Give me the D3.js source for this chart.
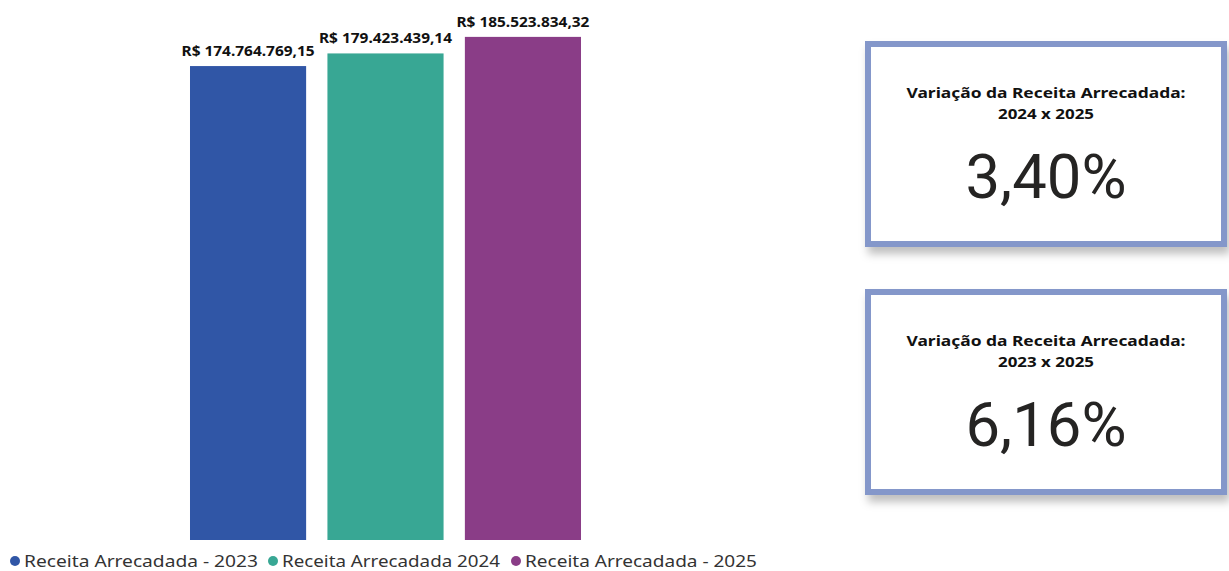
<!DOCTYPE html>
<html>
<head>
<meta charset="utf-8">
<script src="https://cdn.jsdelivr.net/npm/d3@7"></script>
<style>
  body { margin: 0; background: #fff; }
  svg { display: block; }
</style>
</head>
<body>
<script>
// dados
const series = ['Receita Arrecadada - 2023', 'Receita Arrecadada 2024', 'Receita Arrecadada - 2025'];
const values = [174764769.15, 179423439.14, 185523834.32];
const valueLabels = ['R$ 174.764.769,15', 'R$ 179.423.439,14', 'R$ 185.523.834,32'];
const colors = ['#3056A6', '#38A794', '#8A3D87'];

const cardTitles = ['Variação da Receita Arrecadada:', 'Variação da Receita Arrecadada:'];
const cardSubtitles = ['2024 x 2025', '2023 x 2025'];
const cardValues = ['3,40%', '6,16%'];

// layout
const width = 1229;
const height = 571;

const svg = d3.select('body')
    .append('svg')
    .attr('width', width)
    .attr('height', height);

const defs = svg.append('defs');
const shadow = defs.append('filter')
    .attr('id', 'shadow')
    .attr('x', '-10%').attr('y', '-10%')
    .attr('width', '130%').attr('height', '130%');
shadow.append('feDropShadow')
    .attr('dx', 3).attr('dy', 7)
    .attr('stdDeviation', 4)
    .attr('flood-color', '#000')
    .attr('flood-opacity', 0.25);

const xScale = d3.scaleBand()
    .domain(series)
    .range([179, 592])
    .paddingInner(0.155)
    .paddingOuter(0.08);

const yScale = d3.scaleLinear()
    .domain([0, 191750000])
    .range([540, 20]);

svg.selectAll('rect.bar')
    .data(values)
    .enter()
    .append('rect')
    .attr('class', 'bar')
    .attr('x', (d, i) => xScale(series[i]))
    .attr('y', d => yScale(d))
    .attr('width', xScale.bandwidth())
    .attr('height', d => yScale(0) - yScale(d))
    .attr('fill', (d, i) => colors[i]);

svg.selectAll('text.label')
    .data(values)
    .enter()
    .append('text')
    .attr('class', 'label')
    .attr('x', (d, i) => xScale(series[i]) + xScale.bandwidth() / 2)
    .attr('y', d => yScale(d) - 10)
    .attr('text-anchor', 'middle')
    .attr('font-family', 'Noto Sans, sans-serif')
    .attr('font-weight', 'bold')
    .attr('font-size', 15)
    .attr('textLength', 133)
    .attr('lengthAdjust', 'spacingAndGlyphs')
    .attr('fill', '#111')
    .text((d, i) => valueLabels[i]);

// legenda
const legendX = [15, 273, 516];
const legendW = [234, 218, 232];
const legend = svg.selectAll('g.legend')
    .data(series)
    .enter()
    .append('g')
    .attr('class', 'legend')
    .attr('transform', (d, i) => 'translate(' + legendX[i] + ', 561)');

legend.append('circle')
    .attr('r', 5)
    .attr('fill', (d, i) => colors[i]);

legend.append('text')
    .attr('x', 9)
    .attr('y', 6)
    .attr('font-family', 'Noto Sans, sans-serif')
    .attr('font-size', 17)
    .attr('textLength', (d, i) => legendW[i])
    .attr('lengthAdjust', 'spacingAndGlyphs')
    .attr('fill', '#333')
    .text(d => d);

// cartões
const cardY = [44, 292];
const card = svg.selectAll('g.card')
    .data(cardValues)
    .enter()
    .append('g')
    .attr('class', 'card')
    .attr('transform', (d, i) => 'translate(868, ' + cardY[i] + ')');

card.append('rect')
    .attr('width', 356)
    .attr('height', 200)
    .attr('fill', '#fff')
    .attr('stroke', '#8497CA')
    .attr('stroke-width', 6)
    .attr('filter', 'url(#shadow)');

card.append('text')
    .attr('x', 178)
    .attr('y', 54)
    .attr('text-anchor', 'middle')
    .attr('font-family', 'Noto Sans, sans-serif')
    .attr('font-weight', 'bold')
    .attr('font-size', 15)
    .attr('textLength', 279)
    .attr('lengthAdjust', 'spacingAndGlyphs')
    .attr('fill', '#111')
    .text((d, i) => cardTitles[i]);

card.append('text')
    .attr('x', 178)
    .attr('y', 75)
    .attr('text-anchor', 'middle')
    .attr('font-family', 'Noto Sans, sans-serif')
    .attr('font-weight', 'bold')
    .attr('font-size', 15)
    .attr('textLength', 96)
    .attr('lengthAdjust', 'spacingAndGlyphs')
    .attr('fill', '#111')
    .text((d, i) => cardSubtitles[i]);

card.append('text')
    .attr('x', 178)
    .attr('y', 154)
    .attr('text-anchor', 'middle')
    .attr('font-family', 'Roboto, sans-serif')
    .attr('font-size', 61)
    .attr('textLength', 161)
    .attr('lengthAdjust', 'spacingAndGlyphs')
    .attr('fill', '#252423')
    .text(d => d);
</script>
</body>
</html>
